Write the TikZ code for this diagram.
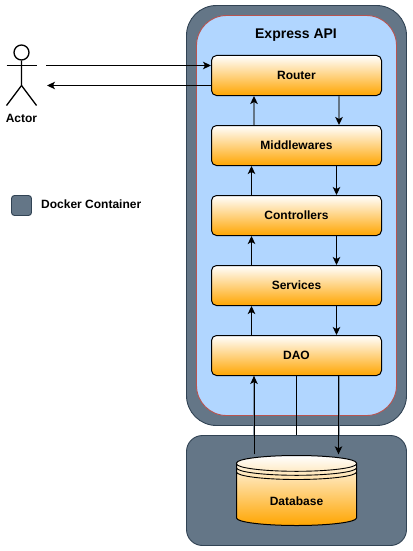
\documentclass[tikz,border=0pt]{standalone}
\usepackage{fontspec}
\setmainfont{Liberation Sans}
\usetikzlibrary{arrows.meta,calc}
\definecolor{dockerfill}{HTML}{647687}
\definecolor{dockerline}{HTML}{314354}
\definecolor{apifill}{HTML}{B1D6FF}
\definecolor{apiline}{HTML}{B85450}
\definecolor{boxbottom}{HTML}{FFA500}
\tikzset{
  x=1pt,y=-1pt,
  tip/.style={-{Stealth[length=8pt,width=7.5pt,inset=2pt,color=black]}},
  conn/.style={tip,draw=black,line width=1pt},
  grayconn/.style={tip,draw=dockerfill,line width=1.7pt},
  halo/.style={draw=dockerfill,line width=1.7pt,opacity=.7},
  dockerbox/.style={draw=dockerline,fill=dockerfill,line width=.9pt,inner sep=0pt,rounded corners=#1},
  layerbox/.style={draw=black,line width=1pt,top color=white,bottom color=boxbottom,minimum width=170pt,minimum height=40pt,rounded corners=5pt,inner sep=0pt,font=\bfseries\fontsize{12}{14}\selectfont},
  label/.style={inner sep=0pt,font=\bfseries\fontsize{12}{14}\selectfont},
  actorline/.style={draw=black,line width=1.3pt}
}
\begin{document}
\begin{tikzpicture}
\useasboundingbox (0,0) rectangle (412,551);
\fill[white] (0,0) rectangle (412,551);
\node[dockerbox=30pt,minimum width=220pt,minimum height=420pt] (outer) at (296.5,215.5) {};
\node[dockerbox=30pt,draw=apiline,fill=apifill,minimum width=200pt,minimum height=400pt] (api) at (296.5,215.5) {};
\node[dockerbox=16pt,minimum width=220pt,minimum height=110pt] (dbbox) at (296.5,490.5) {};
\node[label,font=\bfseries\fontsize{14}{16}\selectfont] (apititle) at (296,35.5) {Express API};
\node[layerbox] (router) at (296.5,75.5) {Router};
\node[layerbox] (mw) at (296.5,145.5) {Middlewares};
\node[layerbox] (ctrl) at (296.5,215.5) {Controllers};
\node[layerbox] (svc) at (296.5,285.5) {Services};
\node[layerbox] (dao) at (296.5,355.5) {DAO};
% database
\path[draw=black,line width=1pt,top color=white,bottom color=boxbottom]
  (236.5,463) .. controls (236.5,458.9) and (263.4,455.5) .. (296.5,455.5)
  .. controls (329.6,455.5) and (356.5,458.9) .. (356.5,463)
  -- (356.5,518) .. controls (356.5,522.1) and (329.6,525.5) .. (296.5,525.5)
  .. controls (263.4,525.5) and (236.5,522.1) .. (236.5,518) -- cycle;
\foreach \dy in {0.8,4.8,9}{
  \draw[black,line width=.9pt] (236.5,463+\dy) .. controls (236.5,467.1+\dy) and (263.4,470.5+\dy) .. (296.5,470.5+\dy)
    .. controls (329.6,470.5+\dy) and (356.5,467.1+\dy) .. (356.5,463+\dy);
}
\node[label,minimum width=120pt,minimum height=70pt] (db) at (296.5,490.5) {};
\node[label] (dbtext) at (296.5,501.5) {Database};
% connectors
\draw[grayconn] ([xshift=42.5pt]router.south) -- ([xshift=42.5pt]mw.north);
\draw[grayconn] ([xshift=-42.5pt]mw.north) -- ([xshift=-42.5pt]router.south);
\draw[conn] ([xshift=40pt]mw.south) -- ([xshift=40pt]ctrl.north);
\draw[conn] ([xshift=-45pt]ctrl.north) -- ([xshift=-45pt]mw.south);
\draw[conn] ([xshift=40pt]ctrl.south) -- ([xshift=40pt]svc.north);
\draw[conn] ([xshift=-45pt]svc.north) -- ([xshift=-45pt]ctrl.south);
\draw[conn] ([xshift=40pt]svc.south) -- ([xshift=40pt]dao.north);
\draw[conn] ([xshift=-45pt]dao.north) -- ([xshift=-45pt]svc.south);
\draw[halo] ([xshift=42.5pt]dao.south) -- ([xshift=42.5pt]dbbox.north);
\draw[halo] ([xshift=-42.5pt]dbbox.north) -- ([xshift=-42.5pt]dao.south);
\draw[conn] ([xshift=42pt]dao.south) -- ([xshift=42pt,yshift=1pt]db.north);
\draw[conn] ([xshift=-42.5pt,yshift=1pt]db.north) -- ([xshift=-42.5pt]dao.south);
\draw[black,line width=1pt] (dao.south) -- (dbbox.north);
% actor
\node[circle,draw=black,line width=1.3pt,minimum size=15pt,inner sep=0pt] (head) at (21.5,52.5) {};
\coordinate (hip) at (21.5,85.5);
\coordinate (handl) at (6.5,65.5);
\coordinate (handr) at (36.5,65.5);
\coordinate (footl) at (6.5,105.5);
\coordinate (footr) at (36.5,105.5);
\draw[actorline] (head.south) -- (hip) -- (footl);
\draw[actorline] (hip) -- (footr);
\draw[actorline] (handl) -- (handr);
\node[label] (actor) at (21.5,118.5) {Actor};
\coordinate (inA) at (46,65.5);
\coordinate (outA) at (47,85.5);
\draw[conn] (inA) -- (inA -| router.west);
\draw[conn] (outA -| router.west) -- (outA);
% legend
\node[dockerbox=3pt,minimum width=20pt,minimum height=20pt] (legend) at (21.5,205.5) {};
\node[label,anchor=west] (legendtext) at (41,204.5) {Docker Container};
\end{tikzpicture}
\end{document}
